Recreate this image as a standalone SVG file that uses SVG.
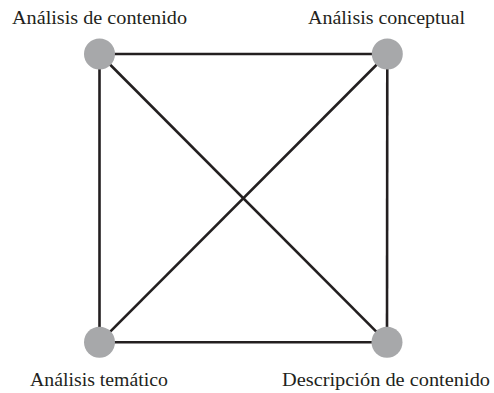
<svg xmlns="http://www.w3.org/2000/svg" width="494" height="393" viewBox="0 0 494 393">
<style>
.edge{stroke:#231f20;stroke-width:2.6;fill:none}
.node{fill:#a7a8aa}
.lbl{font-family:"Liberation Serif","Times New Roman",serif;font-size:19px;fill:#231f20;text-anchor:middle}
</style>
<rect width="494" height="393" fill="#ffffff"/>
<g id="connectors">
<line class="edge" x1="99.5" y1="54" x2="387.3" y2="54"/>
<line class="edge" x1="99.5" y1="342.3" x2="387" y2="342.3"/>
<line class="edge" x1="99.5" y1="54" x2="99.5" y2="342.3"/>
<line class="edge" x1="387.3" y1="54" x2="387" y2="342.3"/>
<line class="edge" x1="99.5" y1="54" x2="387" y2="342.3"/>
<line class="edge" x1="387.3" y1="54" x2="99.5" y2="342.3"/>
</g>
<g id="n1"><circle class="node" cx="99.5" cy="54" r="15.5"/><text class="lbl" x="99.5" y="24" textLength="175" lengthAdjust="spacingAndGlyphs">Análisis de contenido</text></g>
<g id="n2"><circle class="node" cx="387.3" cy="54" r="15.5"/><text class="lbl" x="386.5" y="24" textLength="157" lengthAdjust="spacingAndGlyphs">Análisis conceptual</text></g>
<g id="n3"><circle class="node" cx="99.5" cy="342.3" r="15.5"/><text class="lbl" x="99" y="386" textLength="138" lengthAdjust="spacingAndGlyphs">Análisis temático</text></g>
<g id="n4"><circle class="node" cx="387" cy="342.3" r="15.5"/><text class="lbl" x="386" y="386" textLength="208" lengthAdjust="spacingAndGlyphs">Descripción de contenido</text></g>
</svg>
